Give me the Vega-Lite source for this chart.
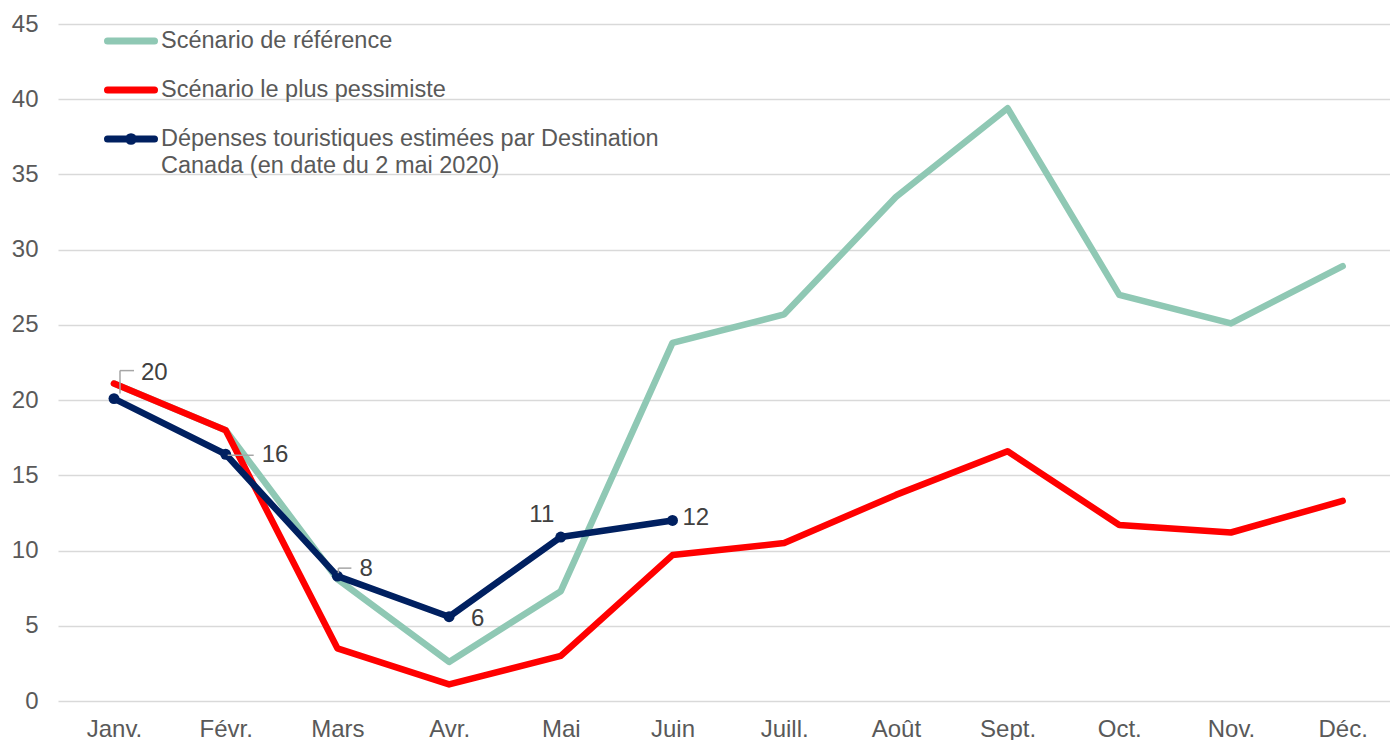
{
  "$schema": "https://vega.github.io/schema/vega-lite/v6.json",
  "width": 1332,
  "height": 677,
  "autosize": {"type": "none"},
  "padding": {"left": 58, "top": 24, "right": 0, "bottom": 39},
  "background": "white",
  "config": {
    "font": "Liberation Sans",
    "view": {"stroke": null},
    "axis": {"labelFont": "Liberation Sans", "labelColor": "#595959", "labelFontSize": 24, "title": null, "ticks": false, "domain": false}
  },
  "data": {"values": [
    {"series": "Scénario de référence", "month": "Janv.", "value": 21.1},
    {"series": "Scénario de référence", "month": "Févr.", "value": 18.0},
    {"series": "Scénario de référence", "month": "Mars", "value": 8.1},
    {"series": "Scénario de référence", "month": "Avr.", "value": 2.6},
    {"series": "Scénario de référence", "month": "Mai", "value": 7.3},
    {"series": "Scénario de référence", "month": "Juin", "value": 23.8},
    {"series": "Scénario de référence", "month": "Juill.", "value": 25.7},
    {"series": "Scénario de référence", "month": "Août", "value": 33.5},
    {"series": "Scénario de référence", "month": "Sept.", "value": 39.4},
    {"series": "Scénario de référence", "month": "Oct.", "value": 27.0},
    {"series": "Scénario de référence", "month": "Nov.", "value": 25.1},
    {"series": "Scénario de référence", "month": "Déc.", "value": 28.9},
    {"series": "Scénario le plus pessimiste", "month": "Janv.", "value": 21.1},
    {"series": "Scénario le plus pessimiste", "month": "Févr.", "value": 18.0},
    {"series": "Scénario le plus pessimiste", "month": "Mars", "value": 3.5},
    {"series": "Scénario le plus pessimiste", "month": "Avr.", "value": 1.1},
    {"series": "Scénario le plus pessimiste", "month": "Mai", "value": 3.0},
    {"series": "Scénario le plus pessimiste", "month": "Juin", "value": 9.7},
    {"series": "Scénario le plus pessimiste", "month": "Juill.", "value": 10.5},
    {"series": "Scénario le plus pessimiste", "month": "Août", "value": 13.7},
    {"series": "Scénario le plus pessimiste", "month": "Sept.", "value": 16.6},
    {"series": "Scénario le plus pessimiste", "month": "Oct.", "value": 11.7},
    {"series": "Scénario le plus pessimiste", "month": "Nov.", "value": 11.2},
    {"series": "Scénario le plus pessimiste", "month": "Déc.", "value": 13.3},
    {"series": "Dépenses touristiques estimées par Destination Canada (en date du 2 mai 2020)", "month": "Janv.", "value": 20.1},
    {"series": "Dépenses touristiques estimées par Destination Canada (en date du 2 mai 2020)", "month": "Févr.", "value": 16.4},
    {"series": "Dépenses touristiques estimées par Destination Canada (en date du 2 mai 2020)", "month": "Mars", "value": 8.3},
    {"series": "Dépenses touristiques estimées par Destination Canada (en date du 2 mai 2020)", "month": "Avr.", "value": 5.6},
    {"series": "Dépenses touristiques estimées par Destination Canada (en date du 2 mai 2020)", "month": "Mai", "value": 10.9},
    {"series": "Dépenses touristiques estimées par Destination Canada (en date du 2 mai 2020)", "month": "Juin", "value": 12.0}
  ]},
  "encoding": {
    "x": {
      "field": "month", "type": "ordinal",
      "sort": ["Janv.", "Févr.", "Mars", "Avr.", "Mai", "Juin", "Juill.", "Août", "Sept.", "Oct.", "Nov.", "Déc."],
      "scale": {"type": "point", "padding": 0.4624, "align": 0.542},
      "axis": {"labelAngle": 0, "labelPadding": 16, "grid": false}
    },
    "y": {
      "field": "value", "type": "quantitative",
      "scale": {"domain": [0, 45], "nice": false},
      "axis": {"values": [0, 5, 10, 15, 20, 25, 30, 35, 40, 45], "grid": true, "gridColor": "#d9d9d9", "gridWidth": 1.5, "labelPadding": 20}
    }
  },
  "layer": [
    {
      "transform": [{"filter": "datum.series === 'Scénario de référence'"}],
      "mark": {"type": "line", "strokeWidth": 6.5, "strokeCap": "round", "strokeJoin": "round"},
      "encoding": {
        "color": {
          "field": "series", "type": "nominal",
          "scale": {
            "domain": ["Scénario de référence", "Scénario le plus pessimiste", "Dépenses touristiques estimées par Destination Canada (en date du 2 mai 2020)"],
            "range": ["#8fc8b4", "#ff0000", "#002060"]
          },
          "legend": {
            "title": null, "orient": "none", "legendX": 46, "legendY": -10,
            "symbolType": "stroke", "symbolSize": 2209, "symbolStrokeWidth": 7,
            "labelFont": "Liberation Sans", "labelFontSize": 23.5, "labelColor": "#595959",
            "labelOffset": 3, "labelLimit": 900, "rowPadding": 8,
            "labelExpr": "indexof(datum.label, 'Dépenses') === 0 ? ['Dépenses touristiques estimées par Destination', 'Canada (en date du 2 mai 2020)'] : datum.label",
            "encode": {
              "labels": {"update": {"lineHeight": {"value": 27}}},
              "symbols": {"update": {
                "strokeCap": {"value": "round"},
                "shape": {"signal": "indexof(datum.label, 'Dépenses') === 0 ? 'M-1,0H1M0.1,0A0.1,0.1,0,1,1,-0.1,0A0.1,0.1,0,1,1,0.1,0' : 'stroke'"}
              }}
            }
          }
        }
      }
    },
    {
      "transform": [{"filter": "datum.series === 'Scénario le plus pessimiste'"}],
      "mark": {"type": "line", "strokeWidth": 6.5, "strokeCap": "round", "strokeJoin": "round"},
      "encoding": {"color": {"field": "series", "type": "nominal"}}
    },
    {
      "transform": [{"filter": "indexof(datum.series, 'Dépenses') === 0"}],
      "mark": {"type": "line", "strokeWidth": 6.5, "strokeCap": "round", "strokeJoin": "round"},
      "encoding": {"color": {"field": "series", "type": "nominal"}}
    },
    {
      "transform": [{"filter": "indexof(datum.series, 'Dépenses') === 0"}],
      "mark": {"type": "point", "filled": true, "size": 120, "opacity": 1, "color": "#002060"}
    },
    {
      "transform": [{"filter": "indexof(datum.series, 'Dépenses') === 0 && datum.month === 'Janv.'"}],
      "mark": {"type": "rule", "color": "#a6a6a6", "strokeWidth": 1.5, "xOffset": 6, "x2Offset": 6, "yOffset": -5, "y2Offset": -28},
      "encoding": {"x2": {"field": "month"}, "y2": {"field": "value"}}
    },
    {
      "transform": [{"filter": "indexof(datum.series, 'Dépenses') === 0 && datum.month === 'Janv.'"}],
      "mark": {"type": "rule", "color": "#a6a6a6", "strokeWidth": 1.5, "xOffset": 6, "x2Offset": 20, "yOffset": -28, "y2Offset": -28},
      "encoding": {"x2": {"field": "month"}, "y2": {"field": "value"}}
    },
    {
      "transform": [{"filter": "indexof(datum.series, 'Dépenses') === 0 && datum.month === 'Févr.'"}],
      "mark": {"type": "rule", "color": "#a6a6a6", "strokeWidth": 1.5, "xOffset": 2, "x2Offset": 28, "yOffset": 1, "y2Offset": 1},
      "encoding": {"x2": {"field": "month"}, "y2": {"field": "value"}}
    },
    {
      "transform": [{"filter": "indexof(datum.series, 'Dépenses') === 0 && datum.month === 'Mars'"}],
      "mark": {"type": "rule", "color": "#a6a6a6", "strokeWidth": 1.5, "xOffset": 1, "x2Offset": 1, "yOffset": -3, "y2Offset": -8},
      "encoding": {"x2": {"field": "month"}, "y2": {"field": "value"}}
    },
    {
      "transform": [{"filter": "indexof(datum.series, 'Dépenses') === 0 && datum.month === 'Mars'"}],
      "mark": {"type": "rule", "color": "#a6a6a6", "strokeWidth": 1.5, "xOffset": 1, "x2Offset": 14, "yOffset": -8, "y2Offset": -8},
      "encoding": {"x2": {"field": "month"}, "y2": {"field": "value"}}
    },
    {
      "transform": [{"filter": "indexof(datum.series, 'Dépenses') === 0 && datum.month === 'Janv.'"}],
      "mark": {"type": "text", "align": "left", "baseline": "middle", "dx": 27, "dy": -26, "fontSize": 24, "color": "#404040", "font": "Liberation Sans"},
      "encoding": {"text": {"field": "value", "type": "quantitative", "format": ".0f"}}
    },
    {
      "transform": [{"filter": "indexof(datum.series, 'Dépenses') === 0 && datum.month === 'Févr.'"}],
      "mark": {"type": "text", "align": "left", "baseline": "middle", "dx": 36, "dy": 1, "fontSize": 24, "color": "#404040", "font": "Liberation Sans"},
      "encoding": {"text": {"field": "value", "type": "quantitative", "format": ".0f"}}
    },
    {
      "transform": [{"filter": "indexof(datum.series, 'Dépenses') === 0 && datum.month === 'Mars'"}],
      "mark": {"type": "text", "align": "left", "baseline": "middle", "dx": 22, "dy": -7, "fontSize": 24, "color": "#404040", "font": "Liberation Sans"},
      "encoding": {"text": {"field": "value", "type": "quantitative", "format": ".0f"}}
    },
    {
      "transform": [{"filter": "indexof(datum.series, 'Dépenses') === 0 && datum.month === 'Avr.'"}],
      "mark": {"type": "text", "align": "left", "baseline": "middle", "dx": 22, "dy": 2, "fontSize": 24, "color": "#404040", "font": "Liberation Sans"},
      "encoding": {"text": {"field": "value", "type": "quantitative", "format": ".0f"}}
    },
    {
      "transform": [{"filter": "indexof(datum.series, 'Dépenses') === 0 && datum.month === 'Mai'"}],
      "mark": {"type": "text", "align": "center", "baseline": "middle", "dx": -19, "dy": -22, "fontSize": 24, "color": "#404040", "font": "Liberation Sans"},
      "encoding": {"text": {"field": "value", "type": "quantitative", "format": ".0f"}}
    },
    {
      "transform": [{"filter": "indexof(datum.series, 'Dépenses') === 0 && datum.month === 'Juin'"}],
      "mark": {"type": "text", "align": "left", "baseline": "middle", "dx": 10, "dy": -2, "fontSize": 24, "color": "#404040", "font": "Liberation Sans"},
      "encoding": {"text": {"field": "value", "type": "quantitative", "format": ".0f"}}
    }
  ]
}
